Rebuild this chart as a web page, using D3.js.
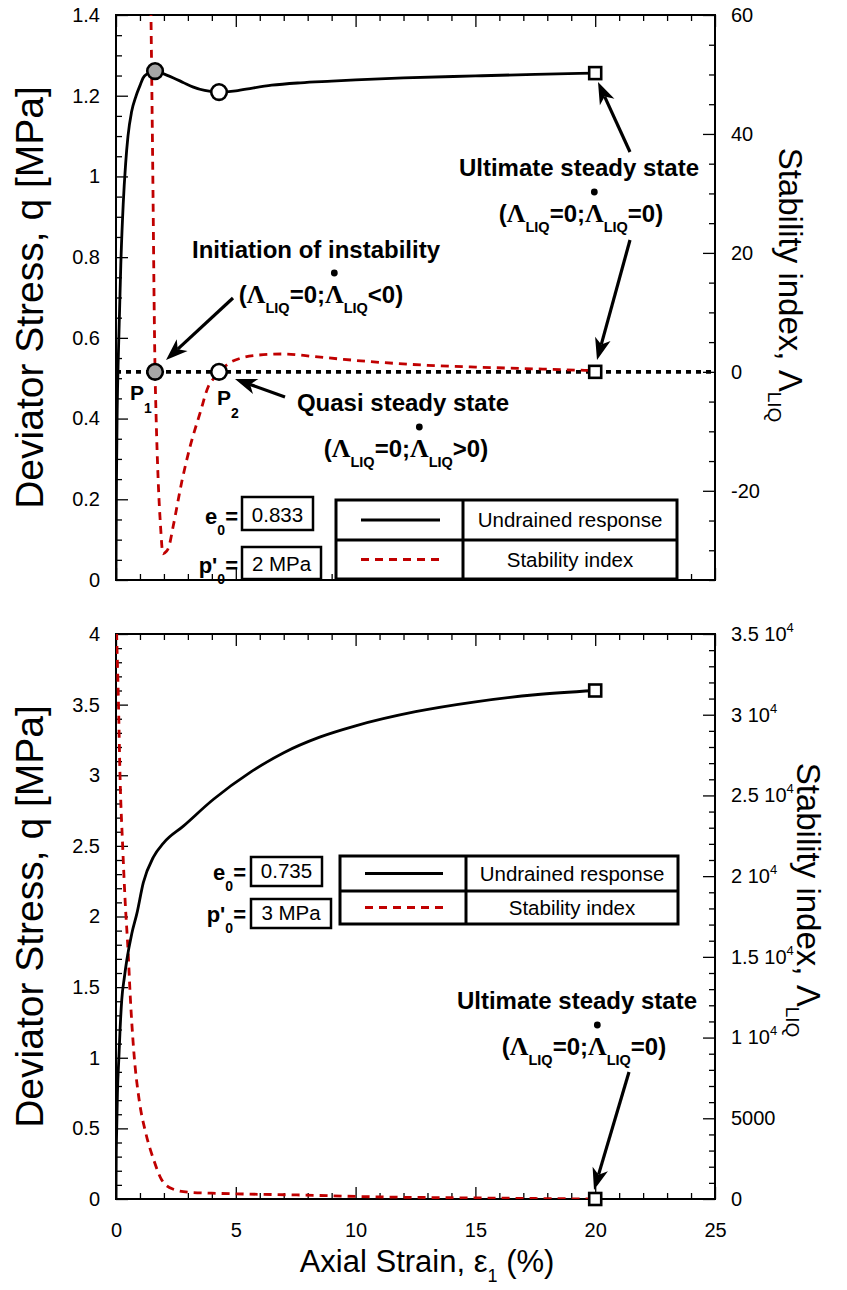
<!DOCTYPE html>
<html><head><meta charset="utf-8">
<script src="https://cdn.jsdelivr.net/npm/d3@7"></script>
<style>body{margin:0;background:#fff} svg{display:block}</style>
</head><body>
<svg id="c" width="847" height="1290"></svg>
<script>
// ---------------- DATA ----------------
// top panel (e0 = 0.833, p'0 = 2 MPa)
const epsTopQ = [0, 0.02, 0.05, 0.1, 0.15, 0.2, 0.3, 0.4, 0.5, 0.65, 0.84, 1.0, 1.13, 1.3, 1.5, 1.63, 1.9, 2.4, 2.8, 3.2, 3.7, 4.3, 5.0, 5.7, 6.5, 7.7, 9, 10, 12, 15, 17.5, 20];
const qTop    = [0, 0.25, 0.42, 0.56, 0.67, 0.78, 0.93, 1.03, 1.1, 1.16, 1.2, 1.225, 1.244, 1.254, 1.259, 1.261, 1.256, 1.244, 1.233, 1.222, 1.213, 1.209, 1.212, 1.219, 1.226, 1.232, 1.236, 1.239, 1.244, 1.249, 1.253, 1.256];
const epsTopL = [1.40, 1.46, 1.545, 1.59, 1.63, 1.67, 1.76, 1.86, 1.96, 2.1, 2.2, 2.38, 2.76, 3.09, 3.51, 3.85, 4.14, 4.3, 4.7, 5.2, 5.9, 7.0, 8.2, 9.5, 11.0, 13.0, 15.0, 17.5, 20];
const lamTop  = [80, 60, 30, 12, 0, -6.9, -18.2, -26, -30.6, -30.2, -29.5, -26.1, -18.2, -12.6, -6.9, -2.5, -0.8, 0, 1.4, 2.3, 2.8, 3.0, 2.6, 2.1, 1.6, 1.1, 0.8, 0.5, 0.2];
const topPtEps = [1.63, 4.3];
const topPtQ   = [1.261, 1.209];
const topPtLam = [0, 0];
const topSqEps = 20, topSqQ = 1.256, topSqLam = 0;

// bottom panel (e0 = 0.735, p'0 = 3 MPa)
const epsBotQ = [0, 0.01, 0.03, 0.06, 0.12, 0.17, 0.24, 0.35, 0.45, 0.66, 0.87, 1.14, 1.56, 1.98, 2.81, 4.07, 5.6, 7.0, 8.5, 10, 12.5, 15, 17.5, 20];
const qBot    = [0, 0.3, 0.5, 0.75, 1.0, 1.2, 1.41, 1.57, 1.69, 1.88, 2.02, 2.24, 2.42, 2.52, 2.64, 2.83, 3.02, 3.16, 3.27, 3.35, 3.45, 3.52, 3.57, 3.6];
const epsBotL = [0.01, 0.03, 0.1, 0.17, 0.28, 0.38, 0.51, 0.59, 0.74, 0.97, 1.24, 1.58, 1.91, 2.37, 3.04, 4.0, 5.3, 7.55, 10.9, 13.0, 15.4, 17.5, 20];
const lamBot  = [36000, 34800, 30900, 26100, 21800, 18500, 15200, 12700, 9200, 6100, 4100, 2400, 1180, 620, 420, 360, 310, 250, 130, 90, 60, 30, 0];
const botSqEps = 20, botSqQ = 3.6, botSqLam = 0;

// ticks
const xTicks = [0, 5, 10, 15, 20, 25];
const xTickLabels = ["0", "5", "10", "15", "20", "25"];
const qTopTicks = [0, 0.2, 0.4, 0.6, 0.8, 1, 1.2, 1.4];
const qTopLabels = ["0", "0.2", "0.4", "0.6", "0.8", "1", "1.2", "1.4"];
const lamTopTicks = [-20, 0, 20, 40, 60];
const lamTopLabels = ["-20", "0", "20", "40", "60"];
const qBotTicks = [0, 0.5, 1, 1.5, 2, 2.5, 3, 3.5, 4];
const qBotLabels = ["0", "0.5", "1", "1.5", "2", "2.5", "3", "3.5", "4"];
const lamBotTicks = [0, 5000, 10000, 15000, 20000, 25000, 30000, 35000];
const lamBotLabels = ["0", "5000", "1 10", "1.5 10", "2 10", "2.5 10", "3 10", "3.5 10"];
const lamBotExp = ["", "", "4", "4", "4", "4", "4", "4"];

// ---------------- DRAW ----------------
const SANS = "'Liberation Sans', Arial, Helvetica, sans-serif";
const SERIF = "'Liberation Serif', 'Times New Roman', serif";
const RED = "#c00000";
const svg = d3.select("#c");
const XL = 116, XR = 715;
const x = d3.scaleLinear().domain([0, 25]).range([XL, XR]);

function minorVals(lo, hi, step, major) {
  const out = [];
  for (let v = lo; v <= hi + 1e-9; v += step) {
    const r = Math.round(v * 1e6) / 1e6;
    if (!major.some(m => Math.abs(m - r) < 1e-6)) out.push(r);
  }
  return out;
}
function styleAxis(g) {
  g.select(".domain").remove();
  g.selectAll("line").attr("stroke", "#000").attr("stroke-width", 1.3);
  g.attr("font-family", SANS).attr("font-size", 20);
  g.selectAll("text").attr("fill", "#000");
}

function panel(cfg) {
  const { y0, y1, qDom, lDom, qTicks, qLabels, qMinor, lTicks, lLabels, lMinor, showX, id } = cfg;
  const yq = d3.scaleLinear().domain(qDom).range([y1, y0]);
  const yl = d3.scaleLinear().domain(lDom).range([y1, y0]);
  const g = svg.append("g");
  svg.append("clipPath").attr("id", id).append("rect")
    .attr("x", XL).attr("y", y0).attr("width", XR - XL).attr("height", y1 - y0);

  g.append("g").attr("transform", `translate(${XL},0)`)
    .call(d3.axisLeft(yq).tickValues(qTicks).tickSize(-12).tickPadding(16).tickFormat((d, i) => qLabels[i]))
    .call(styleAxis);
  g.append("g").attr("transform", `translate(${XL},0)`)
    .call(d3.axisLeft(yq).tickValues(minorVals(qDom[0], qDom[1], qMinor, qTicks)).tickSize(-6).tickFormat(""))
    .call(styleAxis);
  const ra = g.append("g").attr("transform", `translate(${XR},0)`)
    .call(d3.axisRight(yl).tickValues(lTicks).tickSize(-12).tickPadding(16).tickFormat((d, i) => lLabels[i]))
    .call(styleAxis);
  if (cfg.lExp) {
    ra.selectAll("text").each(function (d, i) {
      const t = d3.select(this);
      const base = lLabels[i];
      t.text(null);
      t.append("tspan").text(base);
      if (cfg.lExp[i]) t.append("tspan").attr("dy", -9).attr("font-size", 13).text(cfg.lExp[i]);
    });
  }
  g.append("g").attr("transform", `translate(${XR},0)`)
    .call(d3.axisRight(yl).tickValues(minorVals(lDom[0], lDom[1], lMinor, lTicks)).tickSize(-6).tickFormat(""))
    .call(styleAxis);
  const xMinor = minorVals(0, 25, 1, xTicks);
  g.append("g").attr("transform", `translate(0,${y0})`)
    .call(d3.axisTop(x).tickValues(xTicks).tickSize(-12).tickFormat("")).call(styleAxis);
  g.append("g").attr("transform", `translate(0,${y0})`)
    .call(d3.axisTop(x).tickValues(xMinor).tickSize(-6).tickFormat("")).call(styleAxis);
  g.append("g").attr("transform", `translate(0,${y1})`)
    .call(d3.axisBottom(x).tickValues(xTicks).tickSize(-12).tickPadding(24).tickFormat((d, i) => showX ? xTickLabels[i] : ""))
    .call(styleAxis);
  g.append("g").attr("transform", `translate(0,${y1})`)
    .call(d3.axisBottom(x).tickValues(xMinor).tickSize(-6).tickFormat("")).call(styleAxis);
  g.append("rect").attr("x", XL).attr("y", y0).attr("width", XR - XL).attr("height", y1 - y0)
    .attr("fill", "none").attr("stroke", "#000").attr("stroke-width", 2);
  const plot = svg.append("g").attr("clip-path", `url(#${id})`);
  return { yq, yl, g, plot };
}

function curve(plot, xs, ys, yScale, color, dash, width) {
  const line = d3.line().x(d => x(d[0])).y(d => yScale(d[1])).curve(d3.curveMonotoneX);
  plot.append("path").datum(xs.map((v, i) => [v, ys[i]]))
    .attr("d", line).attr("fill", "none").attr("stroke", color)
    .attr("stroke-width", width).attr("stroke-dasharray", dash || null)
    .attr("stroke-linejoin", "round");
}

function arrow(x1, y1, x2, y2) {
  const dx = x2 - x1, dy = y2 - y1, L = Math.hypot(dx, dy);
  const ux = dx / L, uy = dy / L, vx = -uy, vy = ux;
  const hl = 22, hw = 8, nt = 6;
  svg.append("line").attr("x1", x1).attr("y1", y1)
    .attr("x2", x2 - ux * (hl - nt)).attr("y2", y2 - uy * (hl - nt))
    .attr("stroke", "#000").attr("stroke-width", 3.2);
  const pts = [[x2, y2], [x2 - ux * hl + vx * hw, y2 - uy * hl + vy * hw],
    [x2 - ux * (hl - nt), y2 - uy * (hl - nt)], [x2 - ux * hl - vx * hw, y2 - uy * hl - vy * hw]];
  svg.append("polygon").attr("points", pts.map(p => p.join(",")).join(" ")).attr("fill", "#000");
}

function rich(segs, x0, y0, anchor) {
  const g = svg.append("g");
  let cx = 0; const pos = [];
  segs.forEach(s => {
    const t = g.append("text").attr("x", cx).attr("y", y0 + (s.dy || 0))
      .attr("font-family", s.f || SANS).attr("font-size", s.s)
      .attr("font-weight", s.w || "bold").attr("fill", "#000").text(s.t);
    const w = t.node().getComputedTextLength();
    pos.push({ x: cx, w, s }); cx += w + (s.gap || 0);
  });
  const off = anchor === "middle" ? x0 - cx / 2 : anchor === "end" ? x0 - cx : x0;
  g.attr("transform", `translate(${off},0)`);
  pos.forEach(p => {
    if (p.s.dot) g.append("circle").attr("cx", p.x + p.w / 2).attr("cy", y0 - p.s.dot).attr("r", 3.4).attr("fill", "#000");
  });
  return g;
}
function formula(rel) {
  return [
    { t: "(", s: 24 }, { t: "Λ", f: SERIF, s: 26 }, { t: "LIQ", s: 14.5, dy: 10 },
    { t: "=0;", s: 24 }, { t: "Λ", f: SERIF, s: 26, dot: 30 }, { t: "LIQ", s: 14.5, dy: 10 },
    { t: rel + "0)", s: 24 }
  ];
}
function boldText(t, xx, yy, anchor, size) {
  svg.append("text").attr("x", xx).attr("y", yy).attr("text-anchor", anchor || "middle")
    .attr("font-family", SANS).attr("font-weight", "bold").attr("font-size", size || 24).attr("fill", "#000").text(t);
}
function paramBox(label, value, xEnd, bx, by, bw, bh) {
  rich([{ t: label, s: 22 }, { t: "0", s: 14, dy: 11 }, { t: "=", s: 22 }], xEnd, by + bh - 6, "end");
  svg.append("rect").attr("x", bx).attr("y", by).attr("width", bw).attr("height", bh)
    .attr("fill", "#fff").attr("stroke", "#000").attr("stroke-width", 2.5);
  svg.append("text").attr("x", bx + bw / 2).attr("y", by + bh - 8).attr("text-anchor", "middle")
    .attr("font-family", SANS).attr("font-size", 20.5).attr("fill", "#000").text(value);
}
function legendTable(x0, y0, x1, y1, xm, ym) {
  const g = svg.append("g");
  g.append("rect").attr("x", x0).attr("y", y0).attr("width", x1 - x0).attr("height", y1 - y0)
    .attr("fill", "#fff").attr("stroke", "#000").attr("stroke-width", 3);
  g.append("line").attr("x1", xm).attr("x2", xm).attr("y1", y0).attr("y2", y1).attr("stroke", "#000").attr("stroke-width", 3);
  g.append("line").attr("x1", x0).attr("x2", x1).attr("y1", ym).attr("y2", ym).attr("stroke", "#000").attr("stroke-width", 3);
  const r1 = (y0 + ym) / 2, r2 = (ym + y1) / 2;
  g.append("line").attr("x1", x0 + 25).attr("x2", xm - 23).attr("y1", r1).attr("y2", r1)
    .attr("stroke", "#000").attr("stroke-width", 3);
  g.append("line").attr("x1", x0 + 25).attr("x2", xm - 23).attr("y1", r2).attr("y2", r2)
    .attr("stroke", RED).attr("stroke-width", 3).attr("stroke-dasharray", "8,6");
  const cx = (xm + x1) / 2;
  g.append("text").attr("x", cx).attr("y", r1 + 7).attr("text-anchor", "middle")
    .attr("font-family", SANS).attr("font-size", 20.5).attr("fill", "#000").text("Undrained response");
  g.append("text").attr("x", cx).attr("y", r2 + 7).attr("text-anchor", "middle")
    .attr("font-family", SANS).attr("font-size", 20.5).attr("fill", "#000").text("Stability index");
}
function markerSquare(px, py) {
  svg.append("rect").attr("x", px - 6).attr("y", py - 6).attr("width", 12).attr("height", 12)
    .attr("fill", "#fff").attr("stroke", "#000").attr("stroke-width", 2.6);
}
function markerCircle(px, py, fill) {
  svg.append("circle").attr("cx", px).attr("cy", py).attr("r", 7.8)
    .attr("fill", fill).attr("stroke", "#000").attr("stroke-width", 2.6);
}
function titles(y0, y1, rightX, rightCy) {
  const cy = (y0 + y1) / 2;
  svg.append("text").attr("transform", `translate(43,${cy}) rotate(-90)`).attr("text-anchor", "middle")
    .attr("font-family", SANS).attr("font-size", 39).attr("fill", "#000").text("Deviator Stress, q [MPa]");
  const t = svg.append("text").attr("transform", `translate(${rightX},${rightCy}) rotate(90)`).attr("text-anchor", "middle")
    .attr("font-family", SANS).attr("font-size", 33).attr("fill", "#000");
  t.append("tspan").text("Stability index, Λ");
  t.append("tspan").attr("font-size", 19).attr("dy", 11).text("LIQ");
}

// ===== TOP PANEL =====
const T = panel({ id: "clipT", y0: 15, y1: 580, qDom: [0, 1.4], lDom: [-35, 60],
  qTicks: qTopTicks, qLabels: qTopLabels, qMinor: 0.05,
  lTicks: lamTopTicks, lLabels: lamTopLabels, lMinor: 5, showX: false });
T.plot.append("line").attr("x1", XL).attr("x2", XR).attr("y1", T.yl(0)).attr("y2", T.yl(0))
  .attr("stroke", "#000").attr("stroke-width", 3.6).attr("stroke-dasharray", "5,5");
curve(T.plot, epsTopL, lamTop, T.yl, RED, "8,6", 2.8);
curve(T.plot, epsTopQ, qTop, T.yq, "#000", null, 2.8);
markerCircle(x(topPtEps[0]), T.yq(topPtQ[0]), "#a6a6a6");
markerCircle(x(topPtEps[1]), T.yq(topPtQ[1]), "#fff");
markerCircle(x(topPtEps[0]), T.yl(topPtLam[0]), "#a6a6a6");
markerCircle(x(topPtEps[1]), T.yl(topPtLam[1]), "#fff");
markerSquare(x(topSqEps), T.yq(topSqQ));
markerSquare(x(topSqEps), T.yl(topSqLam));
titles(15, 580, 779, 285);

boldText("Initiation of instability", 316, 258);
rich(formula("<"), 321, 303, "middle");
arrow(233, 298, 166, 360);
rich([{ t: "P", s: 21 }, { t: "1", s: 14, dy: 13, gap: 0 }], 130, 400, "start");
rich([{ t: "P", s: 21 }, { t: "2", s: 14, dy: 13 }], 217, 405, "start");
arrow(285, 397, 235, 379);
boldText("Quasi steady state", 403, 411);
rich(formula(">"), 406, 457, "middle");
boldText("Ultimate steady state", 579, 176);
rich(formula("="), 581, 222, "middle");
arrow(630, 152, 598, 82);
arrow(630, 240, 597, 360);
paramBox("e", "0.833", 238, 242, 497, 71, 33);
paramBox("p'", "2 MPa", 238, 242, 547, 79, 32);
legendTable(336, 500, 677, 579, 463, 540);

// ===== BOTTOM PANEL =====
const B = panel({ id: "clipB", y0: 634, y1: 1199, qDom: [0, 4], lDom: [0, 35000],
  qTicks: qBotTicks, qLabels: qBotLabels, qMinor: 0.1,
  lTicks: lamBotTicks, lLabels: lamBotLabels, lMinor: 1000, lExp: lamBotExp, showX: true });
curve(B.plot, epsBotL, lamBot, B.yl, RED, "8,6", 2.8);
curve(B.plot, epsBotQ, qBot, B.yq, "#000", null, 2.8);
markerSquare(x(botSqEps), B.yq(botSqQ));
markerSquare(x(botSqEps), B.yl(botSqLam));
titles(634, 1199, 797, 900);

boldText("Ultimate steady state", 577, 1009);
rich(formula("="), 584, 1055, "middle");
arrow(629, 1072, 594, 1190);
paramBox("e", "0.735", 246, 251, 857, 71, 29);
paramBox("p'", "3 MPa", 246, 251, 899, 80, 29);
legendTable(340, 856, 678, 924, 466, 891);

// x-axis title
const xt = svg.append("text").attr("x", 427).attr("y", 1272).attr("text-anchor", "middle")
  .attr("font-family", SANS).attr("font-size", 31).attr("fill", "#000");
xt.append("tspan").text("Axial Strain, ε");
xt.append("tspan").attr("font-size", 18).attr("dy", 10).text("1");
xt.append("tspan").attr("dy", -10).text(" (%)");
</script>
</body></html>
